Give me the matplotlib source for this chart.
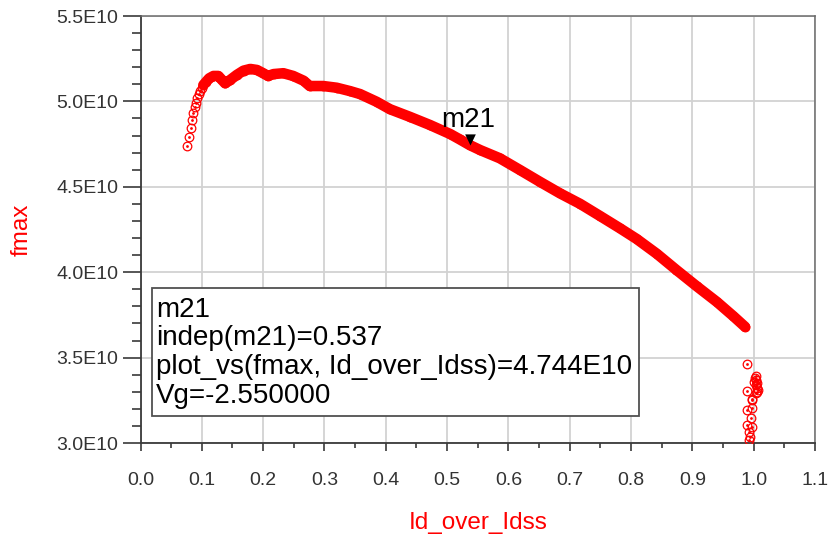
import numpy as np
import matplotlib
matplotlib.use("Agg")
import matplotlib.pyplot as plt
from matplotlib.path import Path
from matplotlib.patches import Rectangle
from matplotlib.ticker import FixedLocator, MultipleLocator, FuncFormatter

plt.rcParams['font.family'] = ['Liberation Sans', 'DejaVu Sans']

# fmax (in units of 1E10 Hz) versus Id/Idss, swept over Vg
# low-current start of the sweep (individually visible points)
start_x = [0.0754, 0.0786, 0.0818, 0.0840, 0.0861, 0.0884, 0.0905, 0.0926,
           0.0949, 0.0970, 0.0998]
start_y = [4.739, 4.793, 4.846, 4.891, 4.930, 4.965, 4.992, 5.018,
           5.042, 5.061, 5.080]

# dense main part of the sweep
main_x = [0.1025, 0.107, 0.112, 0.119, 0.127, 0.132, 0.138, 0.146, 0.157,
          0.168, 0.179, 0.190, 0.200, 0.208, 0.217, 0.233, 0.249, 0.266,
          0.276, 0.298, 0.320, 0.342, 0.358, 0.385, 0.407, 0.439, 0.472,
          0.505, 0.521, 0.537, 0.554, 0.586, 0.619, 0.652, 0.684, 0.717,
          0.749, 0.782, 0.809, 0.842, 0.874, 0.907, 0.940, 0.967, 0.986]
main_y = [5.096, 5.115, 5.135, 5.149, 5.149, 5.129, 5.106, 5.125, 5.155,
          5.180, 5.190, 5.184, 5.165, 5.149, 5.160, 5.165, 5.149, 5.121,
          5.090, 5.090, 5.080, 5.060, 5.043, 4.998, 4.954, 4.910, 4.862,
          4.809, 4.777, 4.744, 4.715, 4.667, 4.598, 4.528, 4.462, 4.400,
          4.330, 4.257, 4.195, 4.108, 4.013, 3.918, 3.826, 3.742, 3.680]

# points near saturation (Id/Idss ~ 1)
sat_x = [0.9886, 1.002, 1.000, 1.004, 1.003, 1.005, 1.006, 1.004, 1.004,
         0.9886, 1.005, 1.007, 0.998, 0.997, 0.9886, 0.998, 0.995, 0.9886,
         0.9967, 0.9918, 0.994, 0.9918]
sat_y = [3.461, 3.379, 3.359, 3.369, 3.390, 3.350, 3.320, 3.290, 3.340,
         3.305, 3.300, 3.310, 3.258, 3.252, 3.193, 3.203, 3.145, 3.105,
         3.095, 3.066, 3.037, 3.018]

# marker m21
m21_x = 0.537
m21_y = 4.744
m21_vg = -2.55

y_ticks = [3.0, 3.5, 4.0, 4.5, 5.0, 5.5]
x_ticks = [0.0, 0.1, 0.2, 0.3, 0.4, 0.5, 0.6, 0.7, 0.8, 0.9, 1.0, 1.1]

E10 = 1e10
RED = '#ff0000'
DARK = '#3a3a3a'

W, H = 830, 535
fig = plt.figure(figsize=(W / 100, H / 100), dpi=100)
L, R, T, B = 140.5, 815, 16, 443
ax = fig.add_axes([L / W, (H - B) / H, (R - L) / W, (B - T) / H])

ax.set_xlim(0.0, 1.1)
ax.set_ylim(3.0 * E10, 5.5 * E10)

mx = np.array(main_x)
my = np.array(main_y) * E10
sx = np.array(start_x)
sy = np.array(start_y) * E10
tx = np.array(sat_x)
ty = np.array(sat_y) * E10

# solid band of the dense sweep
ax.plot(mx, my, '-', color=RED, lw=7.6, solid_capstyle='round',
        solid_joinstyle='round', zorder=3)

# open circle markers with a centre dot
for xs, ys in ((sx, sy), (mx, my), (tx, ty)):
    ax.plot(xs, ys, 'o', mfc='none', mec=RED, ms=6.2, mew=0.9, zorder=4)
    ax.plot(xs, ys, 'o', color=RED, ms=2.0, mew=0, zorder=5)

# m21 marker: downward triangle with its tip on the trace
tri = Path([(0, 0), (-0.48, 1.0), (0.48, 1.0), (0, 0)],
           [Path.MOVETO, Path.LINETO, Path.LINETO, Path.CLOSEPOLY])
ax.plot([m21_x], [m21_y * E10], linestyle='none', marker=tri, ms=16,
        color='black', mew=0, zorder=6)
ax.annotate('m21', xy=(m21_x, m21_y * E10), xytext=(-1, 13),
            textcoords='offset points', ha='center', va='baseline',
            fontsize=20, color='black', zorder=7)

# axes, ticks and grid
ax.xaxis.set_major_locator(FixedLocator(x_ticks))
ax.xaxis.set_minor_locator(MultipleLocator(0.05))
ax.yaxis.set_major_locator(FixedLocator([v * E10 for v in y_ticks]))
ax.yaxis.set_minor_locator(MultipleLocator(0.1 * E10))
ax.xaxis.set_major_formatter(FuncFormatter(lambda v, p: f"{v:.1f}"))
ax.yaxis.set_major_formatter(FuncFormatter(lambda v, p: f"{v / E10:.1f}E10"))

ax.tick_params(axis='x', which='major', length=5.8, width=1.2, color=DARK,
               labelsize=14, labelcolor='#333333', pad=15)
ax.tick_params(axis='x', which='minor', length=3.6, width=1.2, color=DARK)
ax.tick_params(axis='y', which='major', length=13, width=1.2, color=DARK,
               labelsize=14, labelcolor='#333333', pad=3)
ax.tick_params(axis='y', which='minor', length=6.5, width=1.2, color=DARK)

ax.set_axisbelow(True)
ax.grid(True, which='major', color='#d2d2d2', lw=1.3)
for side in ('left', 'bottom'):
    ax.spines[side].set_color(DARK)
    ax.spines[side].set_linewidth(1.3)
for side in ('top', 'right'):
    ax.spines[side].set_color('#6a6a6a')
    ax.spines[side].set_linewidth(1.1)

# axis titles
fig.text(477.7 / W, (H - 529) / H, 'Id_over_Idss', color=RED, fontsize=17.5,
         ha='center', va='baseline')
fig.text(22 / W, (H - 229.5) / H, 'fmax', color=RED, fontsize=17.5,
         ha='center', va='center', rotation=90)

# marker readout box
bx0, by0, bx1, by1 = 152, 288, 639, 416
fig.patches.append(Rectangle((bx0 / W, (H - by1) / H), (bx1 - bx0) / W,
                             (by1 - by0) / H, transform=fig.transFigure,
                             facecolor='white', edgecolor='#505050', lw=1.3,
                             zorder=8))
lines = ['m21',
         f'indep(m21)={m21_x:.3f}',
         f'plot_vs(fmax, Id_over_Idss)={m21_y:.3f}E10',
         f'Vg={m21_vg:.6f}']
baselines = [316.7, 345.4, 374.1, 402.8]
for txt, yb in zip(lines, baselines):
    fig.text(156 / W, (H - yb) / H, txt, fontsize=20, color='black',
             ha='left', va='baseline', zorder=9)

fig.savefig('out.png', dpi=100)
